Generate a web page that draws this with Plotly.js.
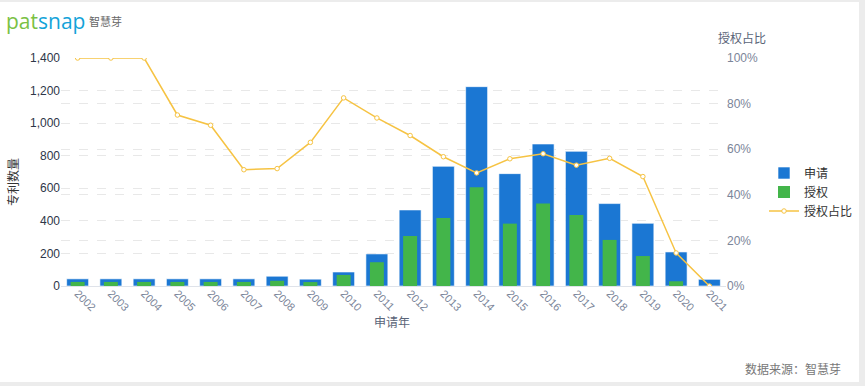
<!DOCTYPE html>
<html><head><meta charset="utf-8">
<script src="https://cdn.plot.ly/plotly-3.0.1.min.js"></script>
<style>
html,body{margin:0;padding:0;background:#ececec;width:865px;height:386px;overflow:hidden}
#chart{position:absolute;left:0;top:2px;width:859px;height:380px;background:#fff}
</style></head>
<body><div id="chart"></div>
<script>
const years = ['2002','2003','2004','2005','2006','2007','2008','2009','2010','2011','2012','2013','2014','2015','2016','2017','2018','2019','2020','2021'];
const applications = [44,44,44,44,44,44,60,42,86,197,467,735,1224,690,872,827,506,385,209,41];
const grants = [25,25,25,25,25,25,32,24,68,146,307,418,606,383,506,436,283,184,29,0];
const grantRatio = [1.0,1.0,1.0,0.75,0.705,0.51,0.515,0.63,0.825,0.737,0.66,0.567,0.496,0.558,0.58,0.53,0.56,0.48,0.145,0.0];

const W=859, H=380;
const L=61, R=W-726, T=56, B=H-284;
const pw = W-L-R, ph = H-T-B;
const fam = "'Liberation Sans','Noto Sans CJK SC',sans-serif";
const cfam = "'Noto Sans CJK SC','Liberation Sans',sans-serif";

const traces = [
 {type:'bar', name:'申请', x:years, y:applications, marker:{color:'#1b77d3', line:{color:'rgba(255,255,255,0.6)', width:1}}, width:0.66, hoverinfo:'x+y'},
 {type:'bar', name:'授权', x:years, y:grants, marker:{color:'#43b54a'}, width:0.42, hoverinfo:'x+y'},
 {type:'scatter', mode:'lines+markers', name:'授权占比', x:years, y:grantRatio, yaxis:'y2',
  line:{color:'#f6c343', width:1.5}, marker:{size:4.5, color:'#fff', line:{color:'#f6c343', width:1}}}
];

const layout = {
 width:W, height:H,
 margin:{l:L, r:R, t:T, b:B, autoexpand:false},
 paper_bgcolor:'#fff', plot_bgcolor:'#fff',
 barmode:'overlay', bargap:0.3,
 font:{family:fam, size:12, color:'#333'},
 showlegend:true,
 legend:{x:(764-L)/pw, xanchor:'left', y:(284-190)/ph, yanchor:'middle', font:{family:cfam, size:12, color:'#333'}, tracegroupgap:0, itemwidth:30},
 xaxis:{type:'category', range:[-0.5, years.length-0.5], tickangle:45, tickfont:{size:11, color:'#7b8599'}, ticklabelstandoff:-4, showline:true, linecolor:'#dfe3ea', linewidth:1, ticks:'', showgrid:false, automargin:false},
 yaxis:{range:[0,1400], dtick:200, tickformat:',d', tickfont:{size:12, color:'#2e3648'}, showgrid:true, gridcolor:'#e8e8e8', griddash:'dash', zeroline:false, showline:false, ticks:'', automargin:false},
 yaxis2:{overlaying:'y', side:'right', range:[0,1], dtick:0.2, tickformat:'.0%', tickfont:{size:12, color:'#7b8599'}, showgrid:true, gridcolor:'#e8e8e8', griddash:'dash', zeroline:false, showline:false, ticks:'', automargin:false},
 annotations:[
  {xref:'paper', yref:'paper', x:(12-L)/pw, y:(284-180)/ph, text:'专利数量', textangle:-90, showarrow:false, font:{family:cfam, size:12, color:'#333'}, xanchor:'center', yanchor:'middle'},
  {xref:'paper', yref:'paper', x:(392-L)/pw, y:(284-319)/ph, text:'申请年', showarrow:false, font:{family:cfam, size:12, color:'#5a6478'}, xanchor:'center', yanchor:'middle'},
  {xref:'paper', yref:'paper', x:(742-L)/pw, y:(284-36)/ph, text:'授权占比', showarrow:false, font:{family:cfam, size:12, color:'#5a6478'}, xanchor:'center', yanchor:'middle'},
  {xref:'paper', yref:'paper', x:(4-L)/pw, y:(284-19)/ph, text:'<span style="color:#7ac143">pat</span><span style="color:#14a3d9">snap</span>', showarrow:false, font:{family:"'Open Sans',sans-serif", size:21}, xanchor:'left', yanchor:'middle'},
  {xref:'paper', yref:'paper', x:(87-L)/pw, y:(284-19)/ph, text:'智慧芽', showarrow:false, font:{family:cfam, size:11, color:'#666'}, xanchor:'left', yanchor:'middle'},
  {xref:'paper', yref:'paper', x:(843-L)/pw, y:(284-366)/ph, text:'数据来源：智慧芽', showarrow:false, font:{family:cfam, size:12, color:'#777'}, xanchor:'right', yanchor:'middle'}
 ]
};
Plotly.newPlot('chart', traces, layout, {displayModeBar:false, staticPlot:true});
</script></body></html>
